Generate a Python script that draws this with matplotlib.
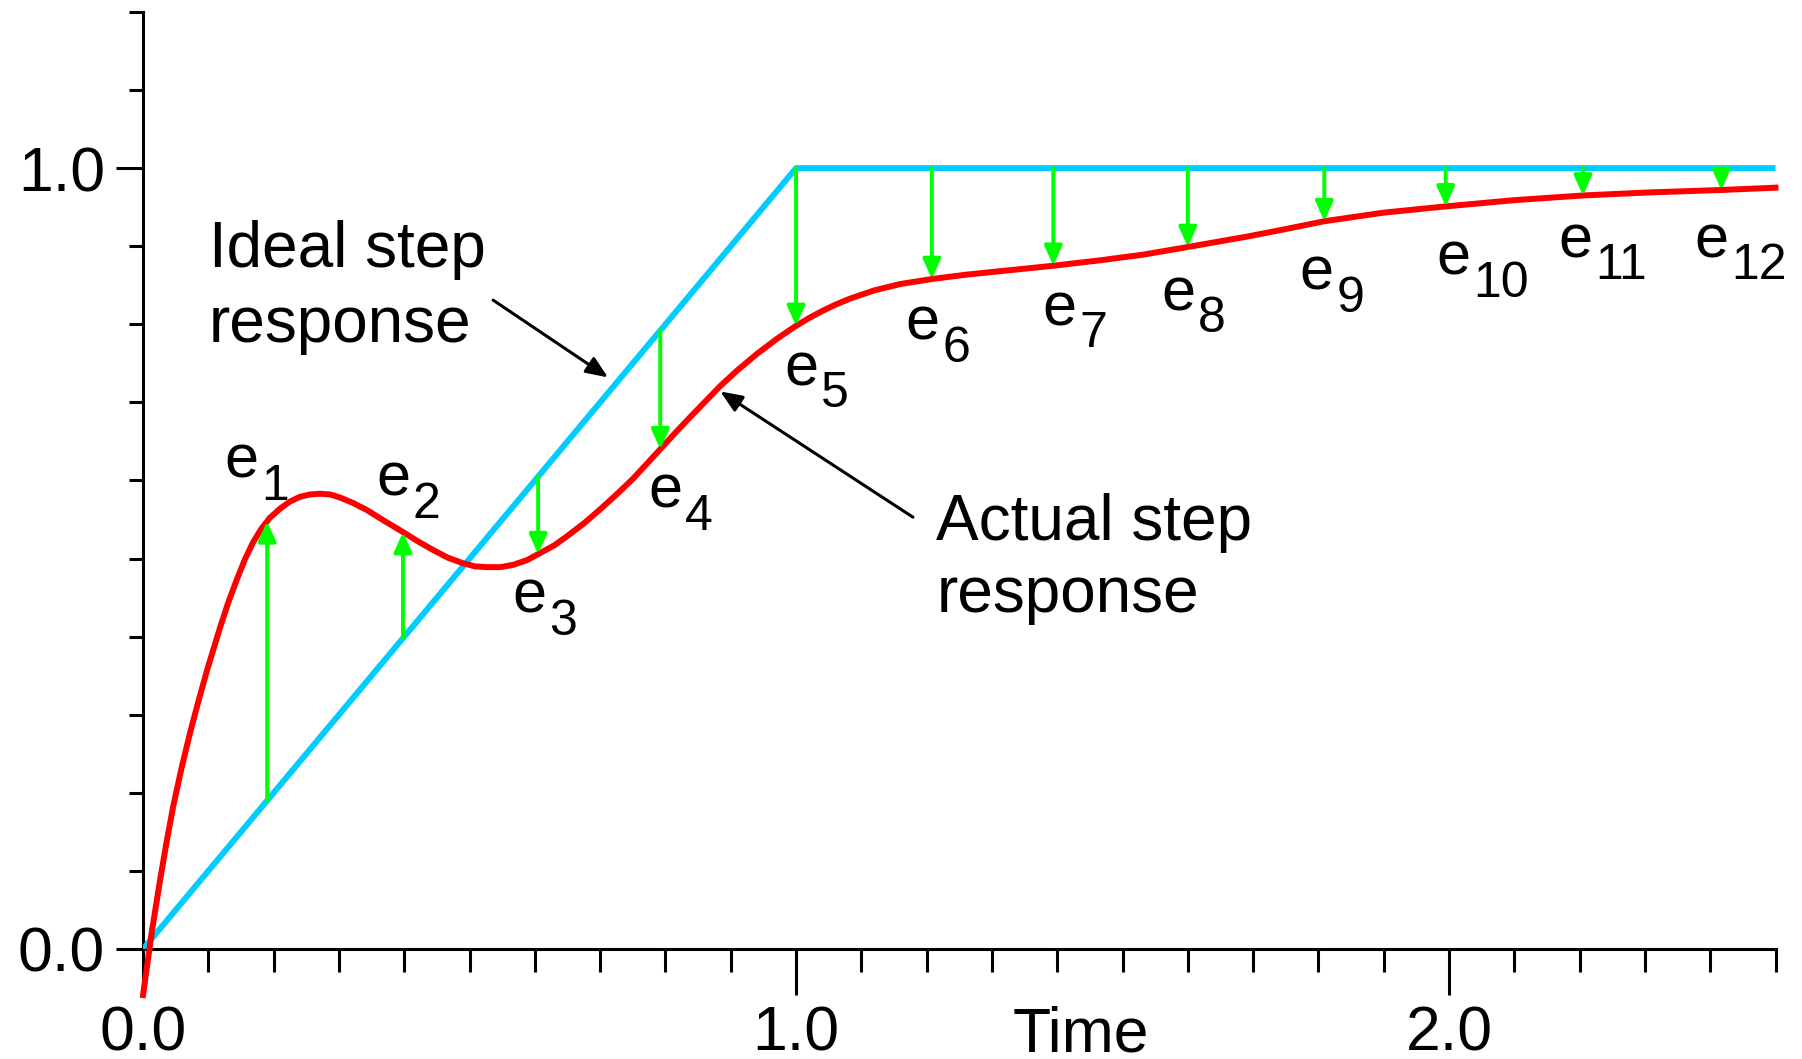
import matplotlib
matplotlib.use("Agg")
import matplotlib.pyplot as plt
import matplotlib.transforms as mtransforms
import numpy as np

plt.rcParams['font.family'] = ['Liberation Sans', 'DejaVu Sans']

# ideal response: ramp to 1.0 at t=1, then flat
ideal_t = [0.0, 1.0, 2.5]
ideal_y = [0.0, 1.0, 1.0]

# actual (measured) step response
actual_t = [0.0, 0.013, 0.026, 0.036, 0.046, 0.059, 0.072, 0.085, 0.098, 0.118,
            0.131, 0.144, 0.156, 0.168, 0.181, 0.194, 0.21, 0.225, 0.24, 0.255,
            0.271, 0.287, 0.302, 0.322, 0.343, 0.368, 0.394, 0.419, 0.444, 0.467,
            0.49, 0.508, 0.527, 0.547, 0.567, 0.588, 0.608, 0.63, 0.65, 0.675,
            0.70, 0.725, 0.75, 0.77, 0.792, 0.815, 0.84, 0.862, 0.884, 0.91,
            0.94, 0.97, 0.998, 1.02, 1.04, 1.06, 1.083, 1.12, 1.159, 1.208,
            1.26, 1.312, 1.394, 1.466, 1.53, 1.60, 1.695, 1.75, 1.809, 1.90,
            1.995, 2.10, 2.205, 2.31, 2.417, 2.5]
actual_y = [-0.059, 0.02, 0.088, 0.137, 0.182, 0.232, 0.277, 0.318, 0.357, 0.412,
            0.445, 0.474, 0.499, 0.52, 0.538, 0.552, 0.564, 0.573, 0.579, 0.582,
            0.583, 0.582, 0.578, 0.571, 0.562, 0.549, 0.536, 0.523, 0.511, 0.501,
            0.494, 0.490, 0.489, 0.489, 0.492, 0.498, 0.507, 0.517, 0.529, 0.545,
            0.563, 0.582, 0.602, 0.620, 0.640, 0.661, 0.683, 0.702, 0.721, 0.741,
            0.762, 0.781, 0.797, 0.808, 0.817, 0.825, 0.833, 0.8435, 0.8515, 0.858,
            0.8635, 0.868, 0.875, 0.882, 0.889, 0.899, 0.913, 0.922, 0.932, 0.943,
            0.951, 0.959, 0.965, 0.969, 0.972, 0.975]

# sample times where the error e_k is taken
err_t = [0.19, 0.398, 0.605, 0.792, 1.0, 1.208, 1.394, 1.60, 1.809, 1.995, 2.205, 2.417]
err_names = [str(k) for k in range(1, 13)]
# where each e_k label sits (left edge / baseline of the "e")
err_lbl_x = [0.124, 0.357, 0.566, 0.774, 0.982, 1.168, 1.377, 1.559, 1.771, 1.981, 2.168, 2.376]
err_lbl_y = [0.604, 0.581, 0.431, 0.565, 0.722, 0.78, 0.799, 0.818, 0.844, 0.864, 0.886, 0.886]

xticks = [0.0, 1.0, 2.0]
xticklabels = ['0.0', '1.0', '2.0']
yticks = [0.0, 1.0]
yticklabels = ['0.0', '1.0']

BLUE = '#00ccff'
RED = '#ff0000'
GREEN = '#00ff00'

fig = plt.figure(figsize=(18.02, 10.59), dpi=100)
ax = fig.add_axes([0.0794, 0.1039, 0.9059, 0.8848])

ax.plot(ideal_t, ideal_y, color=BLUE, lw=4.3, solid_capstyle='butt', zorder=3)
ax.plot(actual_t, actual_y, color=RED, lw=4.3, clip_on=False, zorder=4)

# error arrows from ideal to actual
ideal_at = np.interp(err_t, ideal_t, ideal_y)
actual_at = np.interp(err_t, actual_t, actual_y)
for t, yi, ya in zip(err_t, ideal_at, actual_at):
    ax.annotate('', xy=(t, ya), xytext=(t, yi),
                arrowprops=dict(arrowstyle='-|>,head_length=0.6,head_width=0.27',
                                color=GREEN, lw=2.8, mutation_scale=20,
                                shrinkA=0, shrinkB=0),
                zorder=5)

# e_k labels with subscripts
sub = mtransforms.offset_copy(ax.transData, fig=fig, x=26.5, y=-16, units='points')
for name, lx, ly in zip(err_names, err_lbl_x, err_lbl_y):
    ax.text(lx, ly, 'e', fontsize=44, ha='left', va='baseline')
    ax.text(lx, ly, name, fontsize=36, ha='left', va='baseline', transform=sub)

# curve annotations
for txt, y in [('Ideal step', 0.873), ('response', 0.777)]:
    ax.text(0.101, y, txt, fontsize=46, ha='left', va='baseline')
for txt, y in [('Actual step', 0.524), ('response', 0.431)]:
    ax.text(1.215, y, txt, fontsize=46, ha='left', va='baseline')

arrow_kw = dict(arrowstyle='-|>,head_length=0.6,head_width=0.25', color='black',
                lw=2.2, mutation_scale=22, shrinkA=0, shrinkB=0)
ax.annotate('', xy=(0.712, 0.732), xytext=(0.536, 0.831), arrowprops=arrow_kw)
ax.annotate('', xy=(0.884, 0.714), xytext=(1.179, 0.553), arrowprops=arrow_kw)

ax.text(1.436, -0.131, 'Time', fontsize=45, ha='center', va='baseline')

# axes
ax.set_xlim(0, 2.5)
ax.set_ylim(0, 1.2)
for s in ['top', 'right']:
    ax.spines[s].set_visible(False)
for s in ['left', 'bottom']:
    ax.spines[s].set_linewidth(2.2)

ax.set_xticks(xticks)
ax.set_xticklabels(xticklabels)
ax.set_xticks([round(0.1 * i, 1) for i in range(26)], minor=True)
ax.set_yticks(yticks)
ax.set_yticklabels(yticklabels)
ax.set_yticks([round(0.1 * i, 1) for i in range(13)], minor=True)

ax.tick_params(axis='x', which='major', length=33, width=2.2, labelsize=45, pad=7)
ax.tick_params(axis='x', which='minor', length=16.5, width=2.2)
ax.tick_params(axis='y', which='major', length=19.5, width=2.2, labelsize=45, pad=8)
ax.tick_params(axis='y', which='minor', length=10, width=2.2)

fig.savefig('out.png', dpi=100)
